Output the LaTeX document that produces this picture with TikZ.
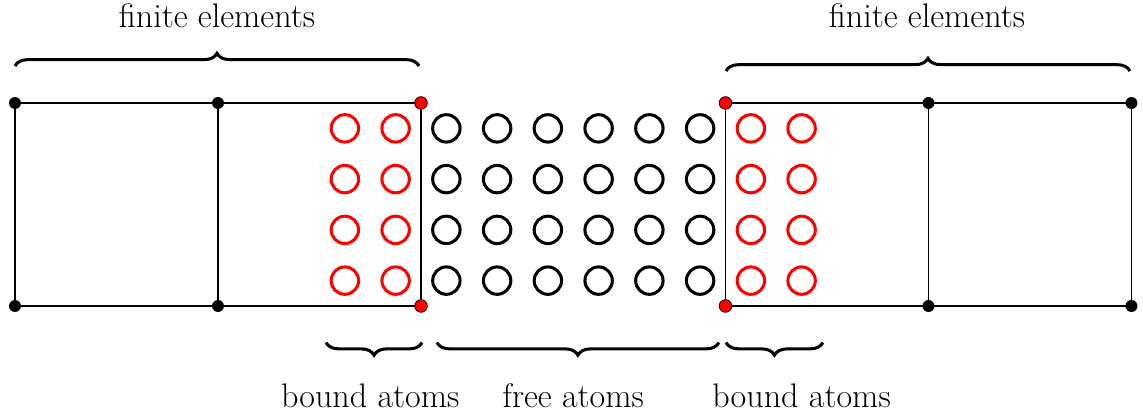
\documentclass[tikz,border=0pt]{standalone}
\usetikzlibrary{decorations.pathreplacing}
\begin{document}
\begin{tikzpicture}[
  atom/.style={circle, line width=1.7pt, minimum size=0.54cm, inner sep=0pt},
  freeatom/.style={atom, draw=black},
  boundatom/.style={atom, draw=red},
  fenode/.style={circle, fill=black, minimum size=0.236cm, inner sep=0pt},
  ifnode/.style={circle, fill=red, draw=black, line width=0.4pt, minimum size=0.25cm, inner sep=0pt},
  feedge/.style={line width=0.8pt},
  bracedec/.style={decorate, decoration={brace, amplitude=0.25cm}, line width=1.7pt},
  bracedecm/.style={decorate, decoration={brace, amplitude=0.25cm, mirror}, line width=1.7pt},
  lbl/.style={font=\fontsize{19.1}{23}\selectfont, anchor=base, inner sep=0pt}
]
\useasboundingbox (-0.2956,-2.2266) rectangle (22.227,6.0296);

% corners of finite elements
\foreach \x/\n in {0/a,4/b,8/c,14/d,18/e,22/f}{
  \coordinate (\n b) at (\x,0);
  \coordinate (\n t) at (\x,4);
}
\draw[feedge] (at) -- (bt) -- (ct) -- (cb) -- (bb) -- (ab) -- cycle;
\draw[feedge] (bt) -- (bb);
\draw[feedge] (dt) -- (et) -- (ft) -- (fb) -- (eb) -- (db) -- cycle;
\draw[feedge] (et) -- (eb);

\foreach \n in {a,b,e,f}{
  \node[fenode] (\n t-dot) at (\n t) {};
  \node[fenode] (\n b-dot) at (\n b) {};
}
\foreach \n in {c,d}{
  \node[ifnode] (\n t-dot) at (\n t) {};
  \node[ifnode] (\n b-dot) at (\n b) {};
}

% atoms
\foreach \r in {0.5,1.5,2.5,3.5}{
  \foreach \x in {6.5,7.5,14.5,15.5}{
    \node[boundatom] (ba-\x-\r) at (\x,\r) {};
  }
  \foreach \x in {8.5,9.5,10.5,11.5,12.5,13.5}{
    \node[freeatom] (fa-\x-\r) at (\x,\r) {};
  }
}

% braces
\coordinate (tl1) at (0,4.729);
\coordinate (tl2) at (7.96,4.729);
\coordinate (tr1) at (14.01,4.63);
\coordinate (tr2) at (21.97,4.63);
\draw[bracedec] (tl1) -- (tl2);
\draw[bracedec] (tr1) -- (tr2);

\coordinate (bl1) at (6.128,-0.72);
\coordinate (bl2) at (8.02,-0.72);
\coordinate (bm1) at (8.315,-0.72);
\coordinate (bm2) at (13.87,-0.72);
\coordinate (br1) at (14.01,-0.72);
\coordinate (br2) at (15.92,-0.72);
\draw[bracedecm] (bl1) -- (bl2);
\draw[bracedecm] (bm1) -- (bm2);
\draw[bracedecm] (br1) -- (br2);

% labels
\node[lbl] (felabl) at (3.98,5.48) {finite elements};
\node[lbl] (felabr) at (17.97,5.48) {finite elements};
\node[lbl] (balabl) at (7.0,-2.01) {bound atoms};
\node[lbl] (falab) at (11.0,-2.01) {free atoms};
\node[lbl] (balabr) at (15.5,-2.01) {bound atoms};
\end{tikzpicture}
\end{document}
